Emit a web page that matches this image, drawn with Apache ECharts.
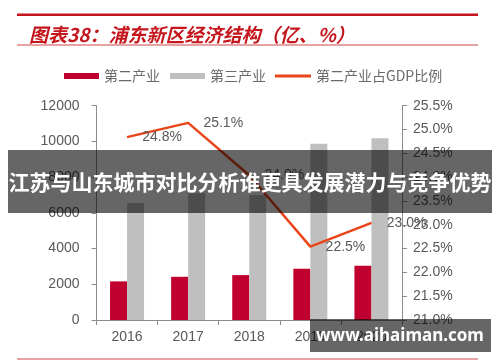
<!DOCTYPE html>
<html>
<head>
<meta charset="utf-8">
<script src="https://cdn.jsdelivr.net/npm/echarts@6/dist/echarts.min.js"></script>
<style>
html,body{margin:0;padding:0;background:#fff;}
#chart{width:500px;height:362px;}
</style>
</head>
<body>
<div id="chart"></div>
<script>
const categories = ['2016', '2017', '2018', '2019', '2020'];
const secondaryIndustry = [2162, 2419, 2514, 2866, 3034];
const tertiaryIndustry = [6553, 7100, 7000, 9872, 10184];
const secondaryShare = [24.84, 25.14, 24.04, 22.54, 23.04];
const seriesNames = ['第二产业', '第三产业', '第二产业占GDP比例'];
const titleText = '图表38：浦东新区经济结构（亿、%）';
const bannerText = '江苏与山东城市对比分析谁更具发展潜力与竞争优势';
const watermarkText = 'www.aihaiman.com';

const chart = echarts.init(document.getElementById('chart'), null, {renderer: 'canvas'});
const axisColor = '#8c8c8c';
const labelColor = '#595959';
const labelFont = 'Liberation Sans, Arial, sans-serif';
const lineColor = '#E8461A';

chart.setOption({
  animation: false,
  backgroundColor: '#fff',
  title: {
    text: titleText,
    left: 24,
    top: 20,
    textStyle: {
      fontFamily: 'Noto Sans CJK SC',
      fontSize: 19,
      fontWeight: 'bold',
      fontStyle: 'italic',
      color: '#C4161C'
    }
  },
  legend: [{
    data: [seriesNames[0], seriesNames[1]],
    left: 59,
    top: 64,
    itemWidth: 35,
    itemHeight: 6,
    itemGap: 10,
    icon: 'rect',
    textStyle: {fontFamily: 'Noto Sans CJK SC', fontSize: 14, color: '#6a6a6a'}
  }, {
    data: [{name: seriesNames[2], icon: 'rect', itemStyle: {color: lineColor}}],
    left: 270,
    top: 64,
    itemWidth: 36,
    itemHeight: 3,
    textStyle: {fontFamily: 'Noto Sans CJK SC', fontSize: 14, color: '#6a6a6a'}
  }],
  grid: {left: 96.5, right: 98, top: 105.7, bottom: 42, containLabel: false},
  xAxis: {
    type: 'category',
    data: categories,
    boundaryGap: true,
    axisLine: {lineStyle: {color: axisColor, width: 1}},
    axisTick: {show: true, length: 5, lineStyle: {color: axisColor}},
    axisLabel: {fontFamily: labelFont, fontSize: 14, color: labelColor, margin: 10}
  },
  yAxis: [{
    type: 'value',
    min: 0, max: 12000, interval: 2000,
    axisLine: {show: true, lineStyle: {color: axisColor}},
    axisTick: {show: true, length: 5, lineStyle: {color: axisColor}},
    splitLine: {show: false},
    axisLabel: {fontFamily: labelFont, fontSize: 14, color: labelColor, margin: 17,
      formatter: v => String(v)}
  }, {
    type: 'value',
    min: 21, max: 25.5, interval: 0.5,
    position: 'right',
    axisLine: {show: true, lineStyle: {color: axisColor}},
    axisTick: {show: true, length: 5, lineStyle: {color: axisColor}},
    splitLine: {show: false},
    axisLabel: {
      fontFamily: labelFont, fontSize: 14, color: labelColor, margin: 11,
      formatter: v => v.toFixed(1) + '%'
    }
  }],
  series: [{
    name: seriesNames[0],
    type: 'bar',
    data: secondaryIndustry,
    barWidth: 17,
    barGap: '0%',
    itemStyle: {color: '#C0002F'}
  }, {
    name: seriesNames[1],
    type: 'bar',
    data: tertiaryIndustry,
    barWidth: 17,
    barGap: '0%',
    itemStyle: {color: '#BFBFBF'}
  }, {
    name: seriesNames[2],
    type: 'line',
    yAxisIndex: 1,
    data: secondaryShare,
    symbol: 'circle',
    symbolSize: 0.5,
    showSymbol: true,
    lineStyle: {color: lineColor, width: 2.5},
    itemStyle: {color: lineColor},
    label: {
      show: true,
      position: 'right',
      distance: 15,
      fontFamily: labelFont,
      fontSize: 14,
      color: labelColor,
      formatter: p => p.value.toFixed(1) + '%'
    },
    labelLayout: {hideOverlap: false},
    z: 5
  }],
  graphic: [
    {type: 'rect', z: 50, shape: {x: 17, y: 13.5, width: 461, height: 2.5}, style: {fill: '#C4161C'}},
    {type: 'rect', z: 50, shape: {x: 17, y: 44.5, width: 461, height: 1}, style: {fill: '#D04848'}},
    {type: 'rect', z: 50, shape: {x: 17, y: 358.5, width: 461, height: 1}, style: {fill: '#D04848'}},
    {type: 'rect', z: 100, shape: {x: 8, y: 150, width: 484, height: 63}, style: {fill: 'rgba(0,0,0,0.6)'}},
    {type: 'text', z: 101, x: 250, y: 182, style: {
      text: bannerText, fill: '#fff', align: 'center', verticalAlign: 'middle',
      font: 'bold 21px "Noto Sans CJK SC"'
    }},
    {type: 'rect', z: 100, shape: {x: 310, y: 319, width: 181, height: 33}, style: {fill: 'rgba(0,0,0,0.6)'}},
    {type: 'text', z: 101, x: 400, y: 336, style: {
      text: watermarkText, fill: '#fff', align: 'center', verticalAlign: 'middle',
      font: 'bold 17px "Noto Sans"'
    }}
  ]
});
</script>
</body>
</html>
